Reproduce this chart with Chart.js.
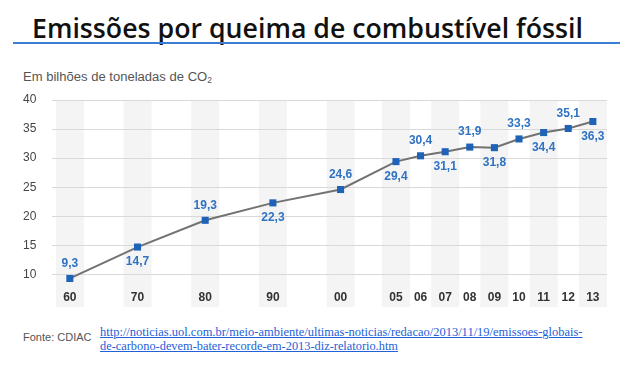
<!DOCTYPE html>
<html>
<head>
<meta charset="utf-8">
<script src="https://cdn.jsdelivr.net/npm/chart.js@4/dist/chart.umd.min.js"></script>
<style>
  html, body { margin:0; padding:0; background:#fff; }
  body { width:628px; height:365px; position:relative; overflow:hidden; }
  #title { position:absolute; left:32px; top:9px; font-family:"Open Sans", sans-serif; font-weight:600; font-size:25px; color:#111; white-space:nowrap; line-height:normal; }
  #rule { position:absolute; left:13px; top:42px; width:607px; height:2px; background:#3a7dd2; }
  #sub { position:absolute; left:23px; top:70px; font-family:"Liberation Sans", Arial, sans-serif; font-size:12px; line-height:14px; color:#555; white-space:nowrap; }
  #sub sub { font-size:0.65em; vertical-align:-2px; }
  #wrap { position:absolute; left:0; top:89px; width:628px; height:226px; }
  #src { position:absolute; left:23px; top:330px; font-family:"Liberation Sans", Arial, sans-serif; font-size:11px; line-height:14px; color:#555; white-space:nowrap; }
  .lnk { position:absolute; left:100px; font-family:"Liberation Serif", "Times New Roman", serif; font-size:12px; line-height:14px; color:#2461d8; text-decoration:underline; white-space:nowrap; }
  #l1 { top:325px; }
  #l2 { top:339px; }
</style>
</head>
<body>
<div id="title">Emissões por queima de combustível fóssil</div>
<div id="rule"></div>
<div id="sub">Em bilhões de toneladas de CO<sub>2</sub></div>
<div id="wrap"><canvas id="c"></canvas></div>
<div id="src">Fonte: CDIAC</div>
<div class="lnk" id="l1">http://noticias.uol.com.br/meio-ambiente/ultimas-noticias/redacao/2013/11/19/emissoes-globais-</div>
<div class="lnk" id="l2">de-carbono-devem-bater-recorde-em-2013-diz-relatorio.htm</div>
<script>
// ---- data ----
const years = ['60','70','80','90','00','05','06','07','08','09','10','11','12','13'];
const emissions = [9.3, 14.7, 19.3, 22.3, 24.6, 29.4, 30.4, 31.1, 31.9, 31.8, 33.3, 34.4, 35.1, 36.3];
const yTickValues = [10, 15, 20, 25, 30, 35, 40];

// broken x axis: decades wide apart, single years close together
function slotGap(prev, next) {
  const decade = y => years.indexOf(y) <= 4;
  if (decade(prev) && decade(next)) return 11;
  if (prev === '00') return 9;
  return 4;
}
const slots = [];
years.forEach((y, i) => slots.push(i === 0 ? 0 : slots[i - 1] + slotGap(years[i - 1], y)));
const points = years.map((y, i) => ({ x: slots[i], y: emissions[i] }));

function fit(el, target) {
  const fs = parseFloat(getComputedStyle(el).fontSize);
  const w = el.getBoundingClientRect().width;
  el.style.fontSize = (fs * target / w) + 'px';
}
fit(document.getElementById('title'), 551);
fit(document.getElementById('sub'), 189);
fit(document.getElementById('l1'), 483);
fit(document.getElementById('l2'), 298);

const bandsPlugin = {
  id: 'bands',
  beforeDraw(chart) {
    const { ctx, chartArea, scales } = chart;
    ctx.save();
    ctx.fillStyle = '#f4f4f4';
    slots.forEach((s, i) => {
      if (i > 4 && (i - 5) % 2 === 1) return; // single years: every other column shaded
      const x = scales.x.getPixelForValue(s);
      ctx.fillRect(x - 14, chartArea.top, 28, chartArea.bottom - chartArea.top + 21);
    });
    ctx.restore();
  }
};

const labelPlugin = {
  id: 'vlabels',
  afterDatasetsDraw(chart) {
    const { ctx } = chart;
    const meta = chart.getDatasetMeta(0);
    ctx.save();
    ctx.font = 'bold 12px "Liberation Sans", Arial, sans-serif';
    ctx.fillStyle = '#2f72c2';
    ctx.textAlign = 'center';
    ctx.textBaseline = 'middle';
    meta.data.forEach((pt, i) => {
      const off = i % 2 === 0 ? -15 : 15;
      ctx.fillText(emissions[i].toFixed(1).replace('.', ','), pt.x, pt.y + off);
    });
    ctx.restore();
  }
};

new Chart(document.getElementById('c'), {
  type: 'line',
  data: {
    datasets: [{
      data: points,
      borderColor: '#727272',
      borderWidth: 2,
      tension: 0,
      pointStyle: 'rect',
      pointRadius: 5,
      pointBackgroundColor: '#1e63b8',
      pointBorderWidth: 0
    }]
  },
  options: {
    responsive: true,
    maintainAspectRatio: false,
    animation: false,
    layout: { padding: { top: 11, right: 21, left: 23, bottom: 0 } },
    plugins: { legend: { display: false }, tooltip: { enabled: false } },
    scales: {
      x: {
        type: 'linear',
        min: -2.9,
        max: 87.3,
        grid: { display: false, drawTicks: false },
        border: { display: false },
        afterBuildTicks: s => { s.ticks = slots.map(v => ({ value: v })); },
        afterFit: s => { s.height = 29; },
        ticks: {
          autoSkip: false,
          maxRotation: 0,
          padding: 4,
          color: '#333',
          font: { family: '"Liberation Sans", Arial, sans-serif', size: 12, weight: 'bold' },
          callback: v => years[slots.indexOf(v)]
        }
      },
      y: {
        min: 8,
        max: 40,
        grid: { color: '#d9d9d9', lineWidth: 1, drawTicks: false },
        border: { display: false },
        afterBuildTicks: s => { s.ticks = yTickValues.map(v => ({ value: v })); },
        afterFit: s => { s.width = 29; },
        ticks: {
          crossAlign: 'far',
          color: '#444',
          font: { family: '"Liberation Sans", Arial, sans-serif', size: 12 }
        }
      }
    }
  },
  plugins: [bandsPlugin, labelPlugin]
});
</script>
</body>
</html>
